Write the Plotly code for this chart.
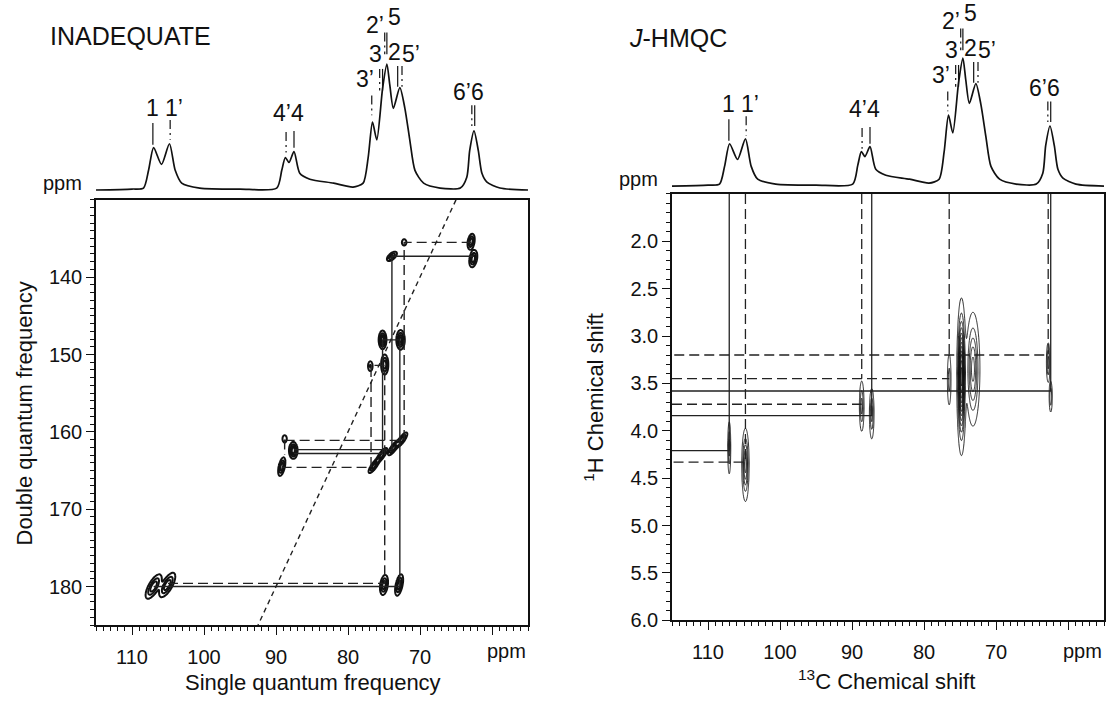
import numpy as np
import plotly.graph_objects as go

W, H = 1106, 711
FONT = "Liberation Sans, Arial, Helvetica, sans-serif"

# ---------------- data ----------------
# 1D 13C spectra drawn above the 2D maps (ppm, height above baseline)
spec_ppm = [115.0, 110.0, 108.4, 107.7, 107.0, 105.9, 104.8, 104.0, 103.1, 100.6, 95.0,
            89.9, 89.2, 88.7, 88.2, 87.5, 86.7, 85.3, 82.0, 79.3, 77.9, 77.2, 76.6, 76.0,
            75.2, 74.6, 74.2, 73.7, 72.8, 72.1, 71.4, 70.7, 69.5, 67.2, 64.4, 63.5, 63.1,
            62.5, 61.9, 61.4, 60.7, 58.9, 55.0]
inad_spec_int = [0, 1, 2, 20, 43, 26, 47, 20, 7, 2, 1,
                 2, 20, 33, 28, 39, 17, 11, 7, 3, 7, 33, 69, 51,
                 103, 128, 107, 83, 104, 83, 50, 20, 7, 2, 2, 13, 40,
                 60, 40, 17, 8, 2, 0]
hmqc_spec_int = [0, 1, 2, 20, 43, 27, 48, 20, 7, 2, 1,
                 2, 21, 35, 30, 40, 17, 11, 7, 3, 7, 35, 72, 54,
                 105, 130, 108, 84, 104, 83, 50, 20, 7, 2, 2, 13, 41,
                 61, 41, 17, 8, 2, 0]

# assignment labels above the spectra
label_text = ["1", "1’", "4’", "4", "3’", "3", "2’", "5", "2", "5’", "6’", "6"]
label_ppm = [107.2, 104.2, 89.1, 87.0, 77.6, 76.25, 76.2, 73.5, 73.5, 71.3, 64.2, 62.0]
label_h = [83, 83, 78, 78, 113, 138, 168, 176, 140, 138, 100, 100]

# little assignment markers under the labels
mark_ppm = [107.1, 104.7, 88.6, 87.5, 76.7, 75.6, 75.2, 74.9, 74.6, 73.1, 72.5, 62.8, 62.4]
mark_top = [68, 71, 59, 60, 96, 123, 123, 160, 160, 126, 126, 86, 86]
mark_bot = [46, 51, 38, 43, 76, 101, 101, 138, 138, 105, 105, 65, 65]
mark_primed = [False, True, True, False, True, True, False, True, False, False, True, True, False]

# INADEQUATE cross peaks (single quantum ppm, double quantum ppm, intensity)
inad_pk_sq = [107.0, 105.1, 75.0, 72.9, 62.9, 62.6, 72.2, 73.9, 75.2, 72.7, 74.9, 76.9,
              88.8, 87.6, 89.2, 72.5, 73.7, 75.3, 76.4]
inad_pk_dq = [180.0, 179.8, 179.8, 179.8, 135.4, 137.6, 135.5, 137.3, 148.1, 148.1, 151.3, 151.5,
              160.9, 162.4, 164.5, 161.0, 162.1, 163.0, 164.4]
inad_pk_amp = [1.0, 1.0, 1.0, 1.0, 1.0, 1.0, 0.45, 0.8, 1.3, 1.2, 1.0, 0.5,
               0.45, 1.3, 1.0, 1.0, 1.0, 1.0, 1.0]
# peak shape (style)
inad_sx = [0.6, 0.6, 0.3, 0.3, 0.27, 0.3, 0.23, 0.4, 0.27, 0.3, 0.27, 0.22, 0.22, 0.3, 0.27, 0.4, 0.4, 0.4, 0.4]
inad_sy = [0.85, 0.85, 0.7, 0.75, 0.55, 0.6, 0.3, 0.35, 0.6, 0.65, 0.7, 0.45, 0.35, 0.55, 0.65, 0.5, 0.5, 0.5, 0.5]
inad_rho = [0.7, 0.7, 0.3, 0.5, 0.3, 0.3, 0.0, 0.6, 0.0, 0.0, 0.0, 0.0, 0.0, 0.0, 0.5, 0.8, 0.8, 0.8, 0.8]

# INADEQUATE connectivity paths (solid = residue, dashed = primed residue)
inad_solid_sq = [107.0, 72.8, 72.8, 75.2, 75.2, 87.5, None, 87.5, 73.9, 73.9, 62.5]
inad_solid_dq = [180.0, 180.0, 148.1, 148.1, 162.8, 162.8, None, 162.3, 162.3, 137.3, 137.3]
inad_dash_sq = [105.0, 74.9, 74.9, 76.8, 76.8, 89.2, None, 88.8, 88.8, None, 88.8, 72.2, 72.2, 62.9]
inad_dash_dq = [179.6, 179.6, 151.4, 151.4, 164.6, 164.6, None, 161.0, 163.0, None, 161.1, 161.1, 135.5, 135.5]
diag_sq = [65.0, 92.5]
diag_dq = [130.0, 185.0]

# J-HMQC cross peaks (13C ppm, 1H ppm, intensity)
hmqc_pk_c = [107.05, 104.8, 88.65, 87.26, 76.5, 74.8, 73.2, 62.75, 62.4]
hmqc_pk_h = [4.18, 4.36, 3.74, 3.82, 3.46, 3.43, 3.35, 3.28, 3.64]
hmqc_pk_amp = [3, 5, 3, 3, 2, 12, 5, 3, 2.5]
hmqc_sx = [0.11, 0.24, 0.17, 0.17, 0.15, 0.26, 0.45, 0.13, 0.12]
hmqc_sy = [0.145, 0.18, 0.14, 0.14, 0.16, 0.33, 0.28, 0.11, 0.09]

# J-HMQC assignment lines
hmqc_solid_c = [107.05, 107.05, 115, None, 87.26, 87.26, 115, None, 62.4, 62.4, 115]
hmqc_solid_h = [1.5, 4.21, 4.21, None, 1.5, 3.84, 3.84, None, 1.5, 3.58, 3.58]
hmqc_dash_c = [104.8, 104.8, 115, None, 88.65, 88.65, None, 115, 88.65, None,
               76.5, 76.5, None, 115, 76.5, None, 62.75, 62.75, 115]
hmqc_dash_h = [1.5, 4.33, 4.33, None, 1.5, 3.45, None, 3.72, 3.72, None,
               1.5, 3.2, None, 3.45, 3.45, None, 1.5, 3.2, 3.2]


# ---------------- helpers ----------------
def surface(xg, yg, cx, cy, sx, sy, rho, amp):
    X, Y = np.meshgrid(xg, yg)
    Z = np.zeros_like(X)
    for i in range(len(cx)):
        u = (X - cx[i]) / sx[i]
        v = (Y - cy[i]) / sy[i]
        r = rho[i]
        Z += amp[i] * np.exp(-0.5 / (1 - r * r) * (u * u - 2 * r * u * v + v * v))
    Z[Z < 0.005] = 0
    return np.round(Z, 3)


def px_x(p):
    return p / W


def px_y(p):
    return 1 - p / H


def txt(text, x, y, size, xref="paper", yref="paper", angle=0):
    return dict(text=text, x=x, y=y, xref=xref, yref=yref, showarrow=False,
                xanchor="center", yanchor="middle", textangle=angle,
                font=dict(size=size, family=FONT, color="#111"))


fig = go.Figure()

# ---- left: INADEQUATE ----
xg = np.round(np.arange(110.0, 59.95, -0.1), 2)
yg = np.round(np.arange(132.0, 184.05, 0.1), 2)
Z = surface(xg, yg, inad_pk_sq, inad_pk_dq, inad_sx, inad_sy, inad_rho, inad_pk_amp)
fig.add_trace(go.Contour(x=xg, y=yg, z=Z, xaxis="x", yaxis="y",
                         contours=dict(coloring="lines", start=0.18, end=1.4, size=0.28, showlabels=False),
                         colorscale=[[0, "#111"], [1, "#111"]], showscale=False,
                         line=dict(width=2.0), hoverinfo="skip"))
fig.add_trace(go.Scatter(x=inad_solid_sq, y=inad_solid_dq, xaxis="x", yaxis="y", mode="lines",
                         line=dict(color="#222", width=1.4), hoverinfo="skip"))
fig.add_trace(go.Scatter(x=inad_dash_sq, y=inad_dash_dq, xaxis="x", yaxis="y", mode="lines",
                         line=dict(color="#222", width=1.4, dash="10px,5px"), hoverinfo="skip"))
fig.add_trace(go.Scatter(x=diag_sq, y=diag_dq, xaxis="x", yaxis="y", mode="lines",
                         line=dict(color="#222", width=1.4, dash="5px,4px"), hoverinfo="skip"))

# ---- right: J-HMQC ----
xg2 = np.round(np.arange(110.0, 59.97, -0.05), 2)
yg2 = np.round(np.arange(2.3, 5.005, 0.01), 3)
Z2 = surface(xg2, yg2, hmqc_pk_c, hmqc_pk_h, hmqc_sx, hmqc_sy, [0] * len(hmqc_sx), hmqc_pk_amp)
fig.add_trace(go.Contour(x=xg2, y=yg2, z=Z2, xaxis="x3", yaxis="y3",
                         contours=dict(coloring="lines", start=0.5, end=14, size=1.0, showlabels=False),
                         colorscale=[[0, "#111"], [1, "#111"]], showscale=False,
                         line=dict(width=0.9), hoverinfo="skip"))
fig.add_trace(go.Scatter(x=hmqc_solid_c, y=hmqc_solid_h, xaxis="x3", yaxis="y3", mode="lines",
                         line=dict(color="#222", width=1.3), hoverinfo="skip"))
fig.add_trace(go.Scatter(x=hmqc_dash_c, y=hmqc_dash_h, xaxis="x3", yaxis="y3", mode="lines",
                         line=dict(color="#222", width=1.3, dash="10px,5px"), hoverinfo="skip"))

# ---- spectra + markers ----
for xa, ya, ints in (("x2", "y2", inad_spec_int), ("x4", "y4", hmqc_spec_int)):
    fig.add_trace(go.Scatter(x=spec_ppm, y=ints, xaxis=xa, yaxis=ya, mode="lines",
                             line=dict(color="#111", width=1.7, shape="spline", smoothing=0.7),
                             hoverinfo="skip"))
    sx_, sy_, dx_, dy_ = [], [], [], []
    for p, t, b, pr in zip(mark_ppm, mark_top, mark_bot, mark_primed):
        if pr:
            dx_ += [p, p, None]
            dy_ += [t, b, None]
        else:
            sx_ += [p, p, None]
            sy_ += [t, b, None]
    fig.add_trace(go.Scatter(x=sx_, y=sy_, xaxis=xa, yaxis=ya, mode="lines",
                             line=dict(color="#111", width=1.2), hoverinfo="skip"))
    fig.add_trace(go.Scatter(x=dx_, y=dy_, xaxis=xa, yaxis=ya, mode="lines",
                             line=dict(color="#111", width=1.2, dash="9px,4px,2px,4px"), hoverinfo="skip"))

annotations = []
for xa, ya in (("x2", "y2"), ("x4", "y4")):
    for t, p, h in zip(label_text, label_ppm, label_h):
        annotations.append(txt(t, p, h, 23, xref=xa, yref=ya))

annotations += [
    txt("INADEQUATE", px_x(130), px_y(37), 25),
    txt("<i>J</i>-HMQC", px_x(678), px_y(39), 25),
    txt("ppm", px_x(62), px_y(186), 20),
    txt("ppm", px_x(638), px_y(182), 20),
    txt("ppm", 58, px_y(661), 20, xref="x"),
    txt("ppm", 58, px_y(661), 20, xref="x3"),
    txt("Single quantum frequency", px_x(313), px_y(693), 22),
    txt("<sup>13</sup>C Chemical shift", px_x(886), px_y(691), 22),
    txt("Double quantum frequency", px_x(25), px_y(420), 22, angle=-90),
    txt("<sup>1</sup>H Chemical shift", px_x(594), px_y(404), 22, angle=-90),
]

axis_common = dict(showline=True, linecolor="#111", linewidth=1.5, mirror=True, ticks="outside",
                   ticklen=8, tickwidth=1.3, tickcolor="#111", showgrid=False, zeroline=False,
                   tickfont=dict(size=20, family=FONT, color="#111"))
xtv = [110, 100, 90, 80, 70, 60]
xtt = ["110", "100", "90", "80", "70", ""]
minor_x = dict(ticks="outside", ticklen=4, tickwidth=1, tickcolor="#111", tickmode="linear", tick0=0, dtick=1)

fig.update_layout(
    width=W, height=H, margin=dict(l=0, r=0, t=0, b=0),
    paper_bgcolor="white", plot_bgcolor="white", showlegend=False,
    xaxis=dict(domain=[px_x(96), px_x(528)], range=[115, 55], anchor="y", tickmode="array",
               tickvals=xtv, ticktext=xtt, minor=minor_x, ticklabelstandoff=5, **axis_common),
    yaxis=dict(domain=[px_y(635), px_y(203)], range=[185, 130], anchor="x", tickmode="array",
               tickvals=[140, 150, 160, 170, 180], ticktext=["140", "150", "160", "170", "180"],
               minor=dict(ticks="outside", ticklen=4, tickwidth=1, tickcolor="#111",
                          tickmode="linear", tick0=0, dtick=1), **axis_common),
    xaxis2=dict(domain=[px_x(96), px_x(528)], range=[115, 55], anchor="y2", visible=False),
    yaxis2=dict(domain=[px_y(200), 1.0], range=[-7, 193], anchor="x2", visible=False),
    xaxis3=dict(domain=[px_x(672), px_x(1104)], range=[115, 55], anchor="y3", tickmode="array",
                tickvals=xtv, ticktext=xtt, minor=minor_x, ticklabelstandoff=5, **axis_common),
    yaxis3=dict(domain=[px_y(630), px_y(197)], range=[6.0, 1.5], anchor="x3", tickmode="array",
                tickvals=[2.0, 2.5, 3.0, 3.5, 4.0, 4.5, 5.0, 5.5, 6.0],
                ticktext=["2.0", "2.5", "3.0", "3.5", "4.0", "4.5", "5.0", "5.5", "6.0"],
                minor=dict(ticks="outside", ticklen=4, tickwidth=1, tickcolor="#111",
                           tickmode="linear", tick0=0, dtick=0.1), **axis_common),
    xaxis4=dict(domain=[px_x(672), px_x(1104)], range=[115, 55], anchor="y4", visible=False),
    yaxis4=dict(domain=[px_y(197), 1.0], range=[-8, 189], anchor="x4", visible=False),
    annotations=annotations,
)

fig.write_html("out.html")
